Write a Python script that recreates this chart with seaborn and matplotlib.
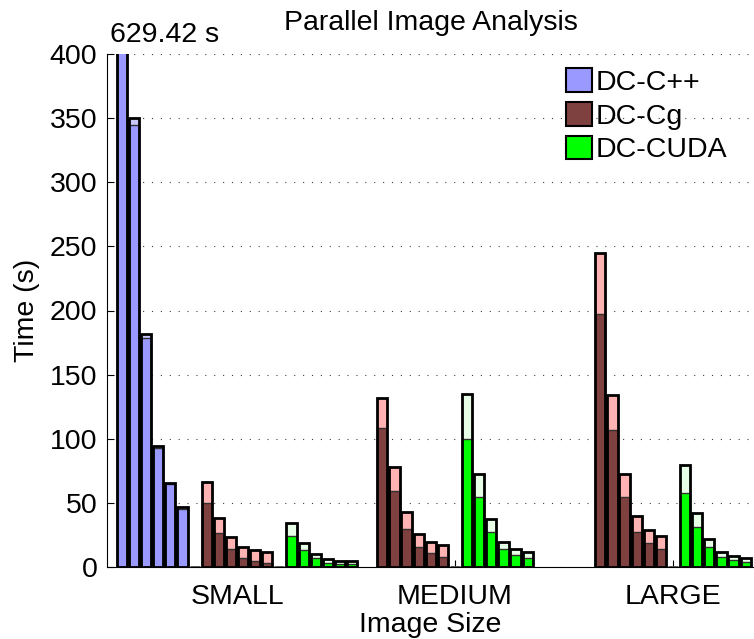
import numpy as np
import pandas as pd
import matplotlib
matplotlib.use("Agg")
import matplotlib.pyplot as plt
from matplotlib.patches import Patch
import seaborn as sns

# image size groups
groups = ["SMALL", "MEDIUM", "LARGE"]
methods = ["DC-C++", "DC-Cg", "DC-CUDA"]

# times (total height and lower/dark part), 6 configs each
cpp_small_total = [629.42, 350.0, 181.7, 94.3, 65.8, 47.0]
cpp_small_base = [620.0, 344.6, 178.3, 92.5, 64.5, 45.0]

cg_small_total = [66.5, 38.5, 23.1, 15.9, 13.3, 12.0]
cg_small_base = [50.2, 26.8, 13.8, 7.3, 4.9, 3.4]
cg_medium_total = [132.0, 78.2, 42.9, 25.7, 19.7, 17.2]
cg_medium_base = [108.1, 59.3, 29.9, 15.3, 10.7, 7.8]
cg_large_total = [245.1, 134.1, 72.3, 39.8, 28.9, 24.2]
cg_large_base = [197.3, 106.8, 54.8, 27.0, 19.0, 13.8]

cuda_small_total = [34.0, 18.8, 10.1, 6.0, 4.7, 4.9]
cuda_small_base = [24.2, 13.3, 6.8, 3.4, 2.1, 2.3]
cuda_medium_total = [134.6, 72.3, 37.2, 19.2, 14.0, 11.4]
cuda_medium_base = [99.8, 54.3, 27.5, 13.8, 9.4, 6.8]
cuda_large_total = [79.5, 41.8, 21.8, 12.0, 8.8, 7.3]
cuda_large_base = [57.9, 30.9, 15.3, 8.1, 5.5, 3.6]

dark_colors = {"DC-C++": "#9999ff", "DC-Cg": "#7f4040", "DC-CUDA": "#00ff00", "gap": "#606060"}
light_colors = {"DC-C++": "#c8c8ff", "DC-Cg": "#ffb3b3", "DC-CUDA": "#e6ffe6", "gap": "#606060"}
outline_colors = {"DC-C++": "black", "DC-Cg": "black", "DC-CUDA": "black", "gap": "#505050"}

step = 1.0 / 18  # spacing between neighbouring bars (group spacing = 1)

# build long table: each group is a row of series separated by an empty slot
rows = []
layout = [
    (1, [("DC-C++", cpp_small_total, cpp_small_base),
         ("DC-Cg", cg_small_total, cg_small_base),
         ("DC-CUDA", cuda_small_total, cuda_small_base)]),
    (2, [("DC-Cg", cg_medium_total, cg_medium_base),
         ("DC-CUDA", cuda_medium_total, cuda_medium_base)]),
    (3, [("DC-Cg", cg_large_total, cg_large_base),
         ("DC-CUDA", cuda_large_total, cuda_large_base)]),
]
for center, series in layout:
    nslots = len(series) * 6 + len(series) - 1
    slot = 0
    for k, (name, tot, base) in enumerate(series):
        for t, b in zip(tot, base):
            x = center + (slot - (nslots - 1) / 2) * step
            rows.append({"pos": round(x, 6), "total": t, "base": b, "method": name})
            slot += 1
        if k < len(series) - 1:
            x = center + (slot - (nslots - 1) / 2) * step
            rows.append({"pos": round(x, 6), "total": 0.0, "base": 0.0, "method": "gap"})
            slot += 1
df = pd.DataFrame(rows)

sns.set_theme(style="white")
plt.rcParams["font.family"] = ["Liberation Sans", "DejaVu Sans"]
plt.rcParams["text.color"] = "black"
plt.rcParams["axes.labelcolor"] = "black"
plt.rcParams["xtick.color"] = "black"
plt.rcParams["ytick.color"] = "black"
fs = 20.5

fig = plt.figure(figsize=(7.54, 6.39), dpi=100)
ax = fig.add_axes([107 / 754, 72 / 639, 647 / 754, 513 / 639])

common = dict(data=df, x="pos", hue="method", native_scale=True, dodge=False,
              width=0.84, errorbar=None, saturation=1, legend=False, ax=ax)
# light top part = full bar, dark lower part drawn over it, then black outline
sns.barplot(y="total", palette=light_colors, linewidth=0, **common)
sns.barplot(y="base", palette=dark_colors, edgecolor="#303030", linewidth=1.0, **common)
sns.barplot(y="total", palette=outline_colors, fill=False, linewidth=2.0, **common)

ax.set_xlim(0.4037, 3.3716)
ax.set_ylim(0, 400)
ax.set_yticks(np.arange(0, 401, 50))
ax.set_xticks([1, 2, 3])
ax.set_xticklabels(groups)
ax.tick_params(axis="both", direction="in", length=5, width=0.8, colors="black", labelsize=fs)
ax.tick_params(axis="y", pad=7, left=True)
ax.tick_params(axis="x", pad=12, bottom=True)

ax.yaxis.grid(True, color="#404040", linestyle=(0, (1, 7)), linewidth=0.8)
ax.xaxis.grid(False)
ax.set_axisbelow(True)
for side in ["top", "right"]:
    ax.spines[side].set_visible(False)
for side in ["left", "bottom"]:
    ax.spines[side].set_color("black")
    ax.spines[side].set_linewidth(0.8)

ax.set_title("Parallel Image Analysis", fontsize=fs, pad=17, color="black")
ax.set_xlabel("Image Size", fontsize=fs, labelpad=2)
ax.set_ylabel("Time (s)", fontsize=fs, labelpad=7)

# value of the clipped bar
ax.text(0.4174, 409.4, "%.2f s" % cpp_small_total[0], fontsize=fs,
        ha="left", va="baseline", clip_on=False, color="black")

handles = [Patch(facecolor=dark_colors[m], edgecolor="black", linewidth=1.5, label=m) for m in methods]
ax.legend(handles=handles, loc="upper left", bbox_to_anchor=(566 / 754, 1 - 68 / 639),
          bbox_transform=fig.transFigure, frameon=False, fontsize=fs,
          handlelength=0.9, handleheight=0.9, handletextpad=0.15,
          labelspacing=0.22, borderpad=0, borderaxespad=0)

fig.savefig("out.png", dpi=100)
